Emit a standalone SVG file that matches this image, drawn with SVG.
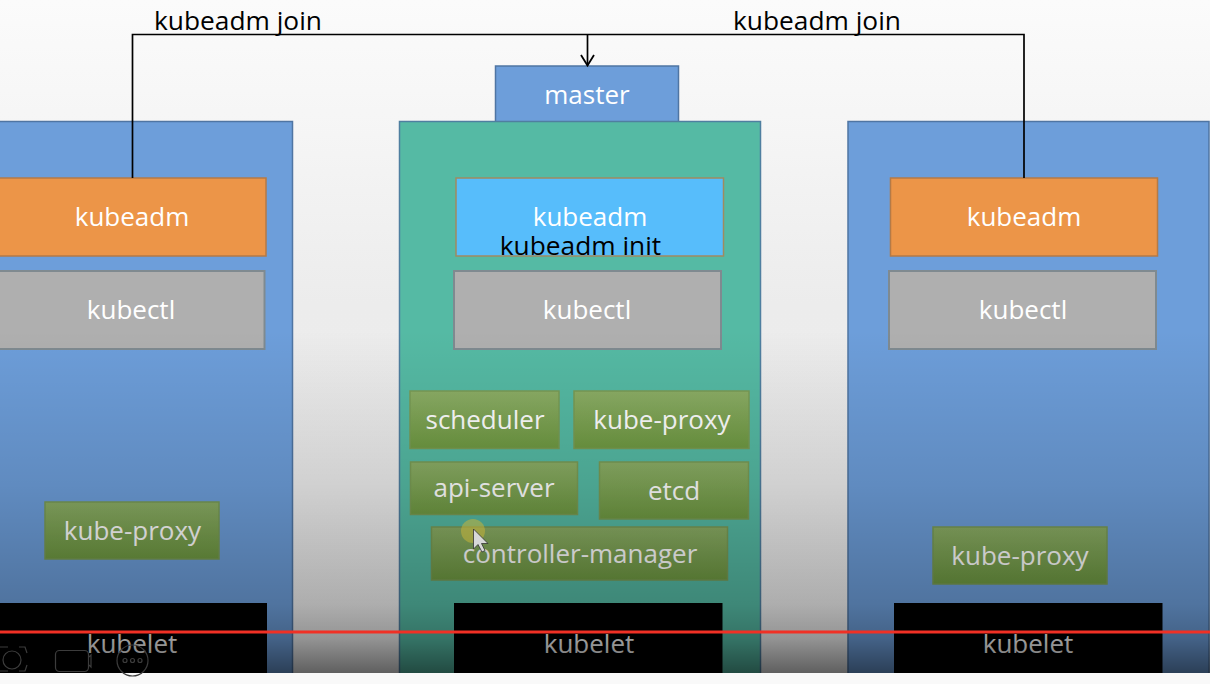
<svg xmlns="http://www.w3.org/2000/svg" width="1210" height="684" viewBox="0 0 1210 684">
<style>
text{font-family:"Open Sans","Noto Sans","DejaVu Sans",sans-serif;font-size:26px;text-anchor:middle;fill:#fff}
.blue{fill:#6d9eda;stroke:#4f75a3;stroke-width:1.5}
.teal{fill:#55baa4;stroke:#4f7fa0;stroke-width:1.5}
.orange{fill:#ec9548;stroke:#b57a46;stroke-width:1.5}
.gray{fill:#afafaf;stroke:#7f8a90;stroke-width:2}
.green{fill:url(#g);stroke:#7a9c55;stroke-width:1.5}
.black{fill:#000}
.dim{fill:#fff}
.out{fill:#000;font-size:26.3px}
.conn{fill:none;stroke:#000;stroke-width:1.7}
.ui{fill:none;stroke:#3c3c3c;stroke-width:1.2}
</style>
<defs>
<linearGradient id="g" x1="0" y1="0" x2="0" y2="1"><stop offset="0" stop-color="#8cae66"/><stop offset="1" stop-color="#6f9a42"/></linearGradient>
<linearGradient id="shade" x1="0" y1="330" x2="0" y2="673" gradientUnits="userSpaceOnUse">
<stop offset="0" stop-color="#000" stop-opacity="0"/>
<stop offset=".45" stop-color="#000" stop-opacity=".12"/>
<stop offset=".8" stop-color="#000" stop-opacity=".27"/>
<stop offset=".9" stop-color="#000" stop-opacity=".38"/>
<stop offset="1" stop-color="#000" stop-opacity=".6"/>
</linearGradient>
<linearGradient id="bg" x1="0" y1="0" x2="0" y2="1"><stop offset="0" stop-color="#fbfbfb"/><stop offset=".2" stop-color="#f5f5f5"/><stop offset=".45" stop-color="#ececec"/><stop offset="1" stop-color="#eeeeee"/></linearGradient>
<clipPath id="initclip"><rect x="480" y="225" width="200" height="30.5"/></clipPath>
<marker id="arrow" markerUnits="userSpaceOnUse" markerWidth="16" markerHeight="16" refX="12" refY="8" orient="auto"><path d="M1.500 1.500L12 8L1.500 14.500" fill="none" stroke="#000" stroke-width="1.8"/></marker>
</defs>
<rect width="1210" height="684" fill="#f9f9f9"/>
<rect width="1210" height="673" fill="url(#bg)"/>
<g id="left-node">
<rect class="blue" x="-5" y="121.500" width="297.500" height="560"/>
<rect class="orange" x="-5" y="178" width="271" height="78"/><text x="132" y="226">kubeadm</text>
<rect class="gray" x="-5" y="271" width="269.500" height="78"/><text x="131" y="319">kubectl</text>
<rect class="green" x="45" y="502" width="174" height="57"/><text x="132.500" y="540">kube-proxy</text>
<rect class="black" x="-5" y="603" width="272" height="80"/><text class="dim" x="132" y="653">kubelet</text>
</g>
<g id="master-label"><rect class="blue" x="495.500" y="66" width="183" height="56"/><text x="587" y="104">master</text></g>
<g id="master-node">
<rect class="teal" x="399.500" y="121.500" width="361" height="560"/>
<rect x="456" y="178" width="267.500" height="78" fill="#57bdfb" stroke="#a08a60" stroke-width="1.500"/><text x="590" y="226">kubeadm</text>
<text class="out" x="580.500" y="255" clip-path="url(#initclip)">kubeadm init</text>
<rect class="gray" x="454" y="271" width="267" height="78"/><text x="587" y="319">kubectl</text>
<rect class="green" x="410" y="391" width="149" height="57.500"/><text x="485" y="429">scheduler</text>
<rect class="green" x="574" y="391" width="175" height="57.500"/><text x="662" y="429">kube-proxy</text>
<rect class="green" x="410.500" y="462" width="167" height="52.500"/><text x="494" y="497">api-server</text>
<rect class="green" x="599.500" y="462" width="149" height="57"/><text x="674" y="500">etcd</text>
<rect class="green" x="431.500" y="527" width="296" height="53"/><text x="580" y="563">controller-manager</text>
<rect class="black" x="454" y="603" width="268.500" height="80"/><text class="dim" x="589" y="653">kubelet</text>
</g>
<g id="right-node">
<rect class="blue" x="848" y="121.500" width="361" height="560"/>
<rect class="orange" x="890.500" y="178" width="267" height="78"/><text x="1024" y="226">kubeadm</text>
<rect class="gray" x="889" y="271" width="267" height="78"/><text x="1023" y="319">kubectl</text>
<rect class="green" x="933" y="527" width="174" height="57"/><text x="1020" y="565">kube-proxy</text>
<rect class="black" x="894" y="603" width="268.500" height="80"/><text class="dim" x="1028" y="653">kubelet</text>
</g>
<rect id="shade-overlay" x="0" y="330" width="1210" height="343" fill="url(#shade)"/>
<rect x="0" y="673" width="1210" height="11" fill="#f9f9f9"/>
<g id="connectors">
<path class="conn" d="M132.500 178V34.500H1024V178"/>
<path class="conn" d="M587.500 34.500V65.500" marker-end="url(#arrow)"/>
<path d="M0 632H1210" stroke="#f03025" stroke-width="3" fill="none"/>
</g>
<text class="out" x="238" y="30">kubeadm join</text>
<text class="out" x="817" y="30">kubeadm join</text>
<g id="screen-overlay">
<circle cx="473" cy="531" r="12" fill="#c5b23a" fill-opacity=".55"/>
<path d="M473.500 529V549L478 544.500L482 552L485 550.500L481.500 543.500L488 543.500Z" fill="#d8d8d8" stroke="#333" stroke-width=".8"/>
<path class="ui" d="M0 647H8M19 647H25L27 653M27 665L25 671H19M8 671H0"/><circle class="ui" cx="12" cy="660" r="9"/>
<rect class="ui" x="55.500" y="650.500" width="33" height="21" rx="4"/><path class="ui" d="M89 657L91 655V667L89 665"/>
<circle class="ui" cx="132.500" cy="660.500" r="15.500"/>
<circle class="ui" cx="125" cy="660.500" r="2"/><circle class="ui" cx="132.500" cy="660.500" r="2"/><circle class="ui" cx="140" cy="660.500" r="2"/>
</g>
</svg>
